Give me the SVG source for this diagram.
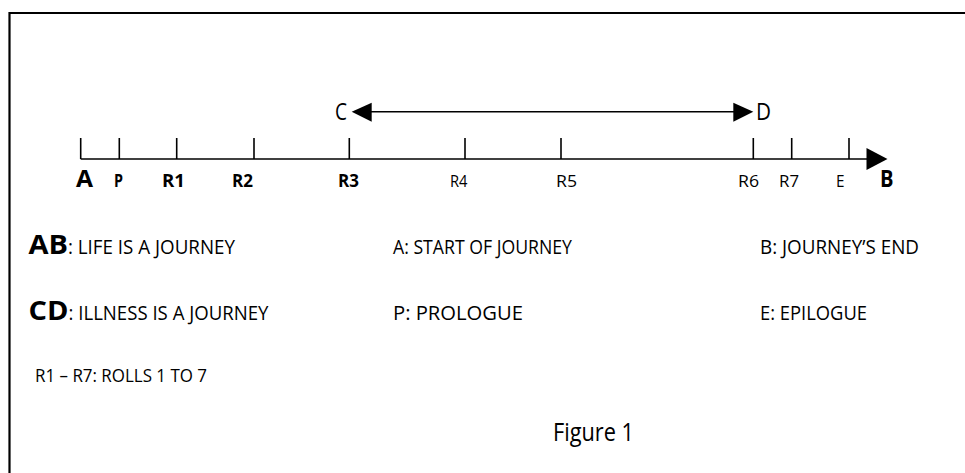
<svg xmlns="http://www.w3.org/2000/svg" width="965" height="473" viewBox="0 0 965 473">
<style>
text{font-family:"Open Sans","Liberation Sans",sans-serif;fill:#000}
.lbl{font-size:17px}
.b{font-weight:bold}
.big{font-size:23px}
.leg{font-size:20px}
.ln{stroke:#000;stroke-width:1.6;fill:none}
.head{fill:#000}
</style>
<rect width="965" height="473" fill="#fff"/>
<path d="M9.5 473 V13 H965" stroke="#000" stroke-width="2.2" fill="none"/>

<g id="connectors">
  <line class="ln" x1="80.7" y1="159" x2="868" y2="159"/>
  <polygon class="head" points="866.5,148 887.5,159 866.5,170"/>
  <line class="ln" x1="368" y1="111.7" x2="737" y2="111.7"/>
  <polygon class="head" points="351.7,111.7 371.7,102.7 371.7,121.7"/>
  <polygon class="head" points="753.3,111.7 733.3,102.7 733.3,121.7"/>
</g>

<g id="ticks">
  <line class="ln" x1="80.7" y1="138" x2="80.7" y2="159"/>
  <line class="ln" x1="119.3" y1="138" x2="119.3" y2="159"/>
  <line class="ln" x1="176.7" y1="138" x2="176.7" y2="159"/>
  <line class="ln" x1="254" y1="138" x2="254" y2="159"/>
  <line class="ln" x1="349.3" y1="138" x2="349.3" y2="159"/>
  <line class="ln" x1="465" y1="138" x2="465" y2="159"/>
  <line class="ln" x1="561" y1="138" x2="561" y2="159"/>
  <line class="ln" x1="753.3" y1="138" x2="753.3" y2="159"/>
  <line class="ln" x1="791.7" y1="138" x2="791.7" y2="159"/>
  <line class="ln" x1="849" y1="138" x2="849" y2="159"/>
</g>

<g id="node-A"><text class="big b" font-size="25px" x="76" y="187" textLength="17" lengthAdjust="spacingAndGlyphs">A</text></g>
<g id="node-P"><text class="lbl b" x="114" y="187" textLength="9" lengthAdjust="spacingAndGlyphs">P</text></g>
<g id="node-R1"><text class="lbl b" x="162" y="187" textLength="23" lengthAdjust="spacingAndGlyphs">R1</text></g>
<g id="node-R2"><text class="lbl b" x="232" y="187" textLength="21" lengthAdjust="spacingAndGlyphs">R2</text></g>
<g id="node-R3"><text class="lbl b" x="338" y="187" textLength="21" lengthAdjust="spacingAndGlyphs">R3</text></g>
<g id="node-R4"><text class="lbl" x="450" y="187" textLength="17.5" lengthAdjust="spacingAndGlyphs">R4</text></g>
<g id="node-R5"><text class="lbl" x="556" y="187" textLength="21" lengthAdjust="spacingAndGlyphs">R5</text></g>
<g id="node-R6"><text class="lbl" x="738" y="187" textLength="21" lengthAdjust="spacingAndGlyphs">R6</text></g>
<g id="node-R7"><text class="lbl" x="779" y="187" textLength="20" lengthAdjust="spacingAndGlyphs">R7</text></g>
<g id="node-E"><text class="lbl" x="836" y="187" textLength="8.5" lengthAdjust="spacingAndGlyphs">E</text></g>
<g id="node-B"><text class="big b" x="880" y="187" textLength="13.5" lengthAdjust="spacingAndGlyphs">B</text></g>
<g id="node-C"><text class="big" font-size="24px" x="335" y="120" textLength="12" lengthAdjust="spacingAndGlyphs">C</text></g>
<g id="node-D"><text class="big" font-size="24px" x="756" y="120" textLength="15" lengthAdjust="spacingAndGlyphs">D</text></g>

<g id="legend">
  <text class="leg" x="28.5" y="253.5"><tspan class="b" font-size="26px" textLength="39.5" lengthAdjust="spacingAndGlyphs">AB</tspan><tspan textLength="167" lengthAdjust="spacingAndGlyphs">: LIFE IS A JOURNEY</tspan></text>
  <text class="leg" x="393" y="253.5" textLength="179" lengthAdjust="spacingAndGlyphs">A: START OF JOURNEY</text>
  <text class="leg" x="760" y="253.5" textLength="159" lengthAdjust="spacingAndGlyphs">B: JOURNEY’S END</text>
  <text class="leg" x="28.5" y="320"><tspan class="b" font-size="26px" textLength="40" lengthAdjust="spacingAndGlyphs">CD</tspan><tspan textLength="200" lengthAdjust="spacingAndGlyphs">: ILLNESS IS A JOURNEY</tspan></text>
  <text class="leg" x="393" y="320" textLength="130" lengthAdjust="spacingAndGlyphs">P: PROLOGUE</text>
  <text class="leg" x="760" y="320" textLength="107" lengthAdjust="spacingAndGlyphs">E: EPILOGUE</text>
  <text font-size="18px" x="35" y="381.5" textLength="172" lengthAdjust="spacingAndGlyphs">R1 – R7: ROLLS 1 TO 7</text>
</g>

<g id="caption"><text font-size="25px" x="553" y="441" textLength="81" lengthAdjust="spacingAndGlyphs">Figure 1</text></g>
</svg>
